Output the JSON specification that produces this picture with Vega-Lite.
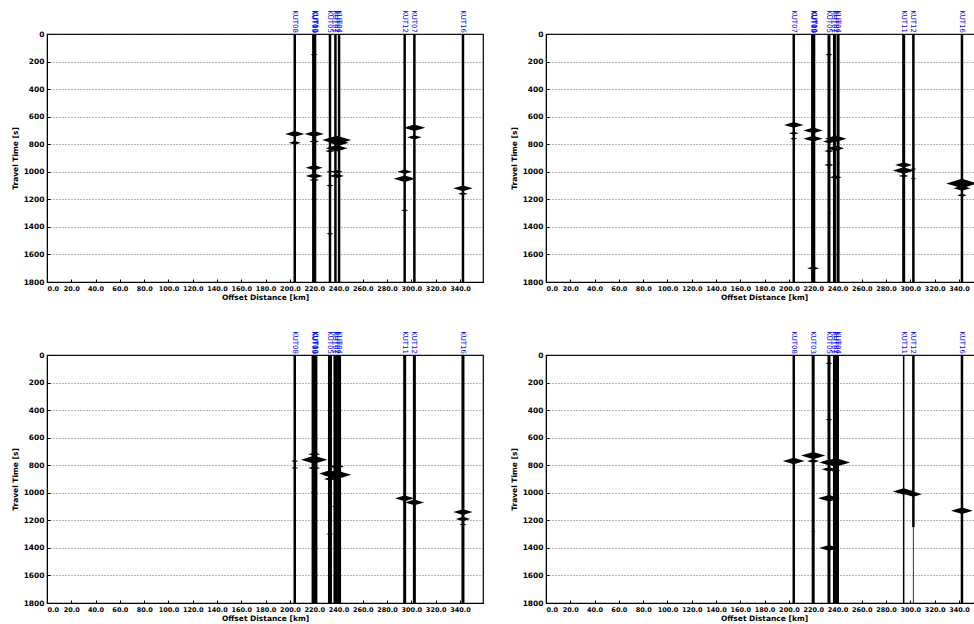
{
  "$schema": "https://vega.github.io/schema/vega-lite/v6.json",
  "padding": {"left": 10, "top": 9, "right": 0, "bottom": 0},
  "background": "white",
  "bounds": "flush",
  "spacing": {"column": 63, "row": 73},
  "config": {
    "font": "DejaVu Sans",
    "view": {"stroke": "black", "strokeWidth": 1.2},
    "axis": {
      "labelFont": "DejaVu Sans", "labelFontWeight": "bold", "labelFontSize": 7.5, "labelColor": "black",
      "titleFont": "DejaVu Sans", "titleFontWeight": "bold", "titleFontSize": 7.5, "titleColor": "black",
      "domainColor": "black", "tickColor": "black", "tickSize": -3, "labelPadding": 6, "labelOverlap": false
    }
  },
  "data": {"values": [
    {"panel": "p1", "kind": "trace", "offset": 204, "t0": 0, "t1": 1800, "noise": 2.5},
    {"panel": "p1", "kind": "trace", "offset": 219.5, "t0": 0, "t1": 1800, "noise": 3},
    {"panel": "p1", "kind": "trace", "offset": 220.5, "t0": 0, "t1": 1800, "noise": 3},
    {"panel": "p1", "kind": "trace", "offset": 233, "t0": 0, "t1": 1800, "noise": 2.5},
    {"panel": "p1", "kind": "trace", "offset": 237.5, "t0": 0, "t1": 1800, "noise": 2.5},
    {"panel": "p1", "kind": "trace", "offset": 240.5, "t0": 0, "t1": 1800, "noise": 2.5},
    {"panel": "p1", "kind": "trace", "offset": 294.5, "t0": 0, "t1": 1800, "noise": 2.5},
    {"panel": "p1", "kind": "trace", "offset": 302.5, "t0": 0, "t1": 1800, "noise": 2.5},
    {"panel": "p1", "kind": "trace", "offset": 342.5, "t0": 0, "t1": 1800, "noise": 2.5},

    {"panel": "p2", "kind": "trace", "offset": 204, "t0": 0, "t1": 1800, "noise": 2.5},
    {"panel": "p2", "kind": "trace", "offset": 219.5, "t0": 0, "t1": 1800, "noise": 3},
    {"panel": "p2", "kind": "trace", "offset": 220.5, "t0": 0, "t1": 1800, "noise": 3},
    {"panel": "p2", "kind": "trace", "offset": 233, "t0": 0, "t1": 1800, "noise": 3},
    {"panel": "p2", "kind": "trace", "offset": 237.5, "t0": 0, "t1": 1800, "noise": 3},
    {"panel": "p2", "kind": "trace", "offset": 240.5, "t0": 0, "t1": 1800, "noise": 3},
    {"panel": "p2", "kind": "trace", "offset": 294.5, "t0": 0, "t1": 1800, "noise": 3},
    {"panel": "p2", "kind": "trace", "offset": 302.5, "t0": 0, "t1": 1800, "noise": 2.5},
    {"panel": "p2", "kind": "trace", "offset": 342.5, "t0": 0, "t1": 1800, "noise": 2.5},

    {"panel": "p3", "kind": "trace", "offset": 204, "t0": 0, "t1": 1800, "noise": 2.5},
    {"panel": "p3", "kind": "trace", "offset": 219.5, "t0": 0, "t1": 1800, "noise": 4},
    {"panel": "p3", "kind": "trace", "offset": 221, "t0": 0, "t1": 1800, "noise": 4},
    {"panel": "p3", "kind": "trace", "offset": 233, "t0": 0, "t1": 1800, "noise": 4},
    {"panel": "p3", "kind": "trace", "offset": 237.5, "t0": 0, "t1": 1800, "noise": 4},
    {"panel": "p3", "kind": "trace", "offset": 240.5, "t0": 0, "t1": 1800, "noise": 4},
    {"panel": "p3", "kind": "trace", "offset": 294.5, "t0": 0, "t1": 1800, "noise": 3},
    {"panel": "p3", "kind": "trace", "offset": 302.5, "t0": 0, "t1": 1800, "noise": 3},
    {"panel": "p3", "kind": "trace", "offset": 342.5, "t0": 0, "t1": 1800, "noise": 3},

    {"panel": "p4", "kind": "trace", "offset": 204, "t0": 0, "t1": 1800, "noise": 2.5},
    {"panel": "p4", "kind": "trace", "offset": 220, "t0": 0, "t1": 1800, "noise": 3},
    {"panel": "p4", "kind": "trace", "offset": 233, "t0": 0, "t1": 1800, "noise": 3},
    {"panel": "p4", "kind": "trace", "offset": 237.5, "t0": 0, "t1": 1800, "noise": 3},
    {"panel": "p4", "kind": "trace", "offset": 240, "t0": 0, "t1": 1800, "noise": 3},
    {"panel": "p4", "kind": "trace", "offset": 294.5, "t0": 0, "t1": 1800, "noise": 1.5},
    {"panel": "p4", "kind": "trace", "offset": 302.5, "t0": 0, "t1": 1250, "noise": 2.5},
    {"panel": "p4", "kind": "trace", "offset": 302.5, "t0": 1250, "t1": 1800, "noise": 0.8},
    {"panel": "p4", "kind": "trace", "offset": 342.5, "t0": 0, "t1": 1800, "noise": 2.5},

    {"panel": "p1", "kind": "burst", "offset": 204, "time": 725, "amp": 8},
    {"panel": "p1", "kind": "burst", "offset": 204, "time": 790, "amp": 5},
    {"panel": "p1", "kind": "burst", "offset": 220, "time": 150, "amp": 3},
    {"panel": "p1", "kind": "burst", "offset": 220, "time": 725, "amp": 8},
    {"panel": "p1", "kind": "burst", "offset": 220, "time": 780, "amp": 4},
    {"panel": "p1", "kind": "burst", "offset": 220, "time": 970, "amp": 7},
    {"panel": "p1", "kind": "burst", "offset": 220, "time": 1030, "amp": 7},
    {"panel": "p1", "kind": "burst", "offset": 220, "time": 1060, "amp": 4},
    {"panel": "p1", "kind": "burst", "offset": 220, "time": 300, "amp": 2},
    {"panel": "p1", "kind": "burst", "offset": 220, "time": 1200, "amp": 2.5},
    {"panel": "p1", "kind": "burst", "offset": 220, "time": 1350, "amp": 2},
    {"panel": "p1", "kind": "burst", "offset": 233, "time": 770, "amp": 4},
    {"panel": "p1", "kind": "burst", "offset": 233, "time": 850, "amp": 4},
    {"panel": "p1", "kind": "burst", "offset": 233, "time": 1000, "amp": 3},
    {"panel": "p1", "kind": "burst", "offset": 233, "time": 1100, "amp": 3},
    {"panel": "p1", "kind": "burst", "offset": 233, "time": 1450, "amp": 3},
    {"panel": "p1", "kind": "burst", "offset": 238.5, "time": 770, "amp": 12},
    {"panel": "p1", "kind": "burst", "offset": 238.5, "time": 830, "amp": 9},
    {"panel": "p1", "kind": "burst", "offset": 238.5, "time": 1000, "amp": 5},
    {"panel": "p1", "kind": "burst", "offset": 238.5, "time": 1030, "amp": 6},
    {"panel": "p1", "kind": "burst", "offset": 240.5, "time": 790, "amp": 8},
    {"panel": "p1", "kind": "burst", "offset": 294.5, "time": 1000, "amp": 6},
    {"panel": "p1", "kind": "burst", "offset": 294.5, "time": 1050, "amp": 9},
    {"panel": "p1", "kind": "burst", "offset": 294.5, "time": 1280, "amp": 3},
    {"panel": "p1", "kind": "burst", "offset": 302.5, "time": 680, "amp": 9},
    {"panel": "p1", "kind": "burst", "offset": 302.5, "time": 750, "amp": 6},
    {"panel": "p1", "kind": "burst", "offset": 342.5, "time": 1120, "amp": 8},
    {"panel": "p1", "kind": "burst", "offset": 342.5, "time": 1160, "amp": 4},

    {"panel": "p2", "kind": "burst", "offset": 204, "time": 660, "amp": 8},
    {"panel": "p2", "kind": "burst", "offset": 204, "time": 720, "amp": 4},
    {"panel": "p2", "kind": "burst", "offset": 204, "time": 760, "amp": 3},
    {"panel": "p2", "kind": "burst", "offset": 220, "time": 700, "amp": 8},
    {"panel": "p2", "kind": "burst", "offset": 220, "time": 760, "amp": 8},
    {"panel": "p2", "kind": "burst", "offset": 220, "time": 150, "amp": 2},
    {"panel": "p2", "kind": "burst", "offset": 220, "time": 400, "amp": 2},
    {"panel": "p2", "kind": "burst", "offset": 220, "time": 1400, "amp": 2},
    {"panel": "p2", "kind": "burst", "offset": 220, "time": 1700, "amp": 5},
    {"panel": "p2", "kind": "burst", "offset": 233, "time": 150, "amp": 3},
    {"panel": "p2", "kind": "burst", "offset": 233, "time": 780, "amp": 5},
    {"panel": "p2", "kind": "burst", "offset": 233, "time": 850, "amp": 4},
    {"panel": "p2", "kind": "burst", "offset": 233, "time": 950, "amp": 4},
    {"panel": "p2", "kind": "burst", "offset": 233, "time": 1300, "amp": 2},
    {"panel": "p2", "kind": "burst", "offset": 238.5, "time": 760, "amp": 9},
    {"panel": "p2", "kind": "burst", "offset": 238.5, "time": 830, "amp": 7},
    {"panel": "p2", "kind": "burst", "offset": 238.5, "time": 1040, "amp": 5},
    {"panel": "p2", "kind": "burst", "offset": 238.5, "time": 1600, "amp": 2},
    {"panel": "p2", "kind": "burst", "offset": 294.5, "time": 950, "amp": 7},
    {"panel": "p2", "kind": "burst", "offset": 294.5, "time": 990, "amp": 9},
    {"panel": "p2", "kind": "burst", "offset": 294.5, "time": 1030, "amp": 4},
    {"panel": "p2", "kind": "burst", "offset": 302.5, "time": 980, "amp": 2.5},
    {"panel": "p2", "kind": "burst", "offset": 302.5, "time": 1050, "amp": 2.5},
    {"panel": "p2", "kind": "burst", "offset": 342.5, "time": 1085, "amp": 13},
    {"panel": "p2", "kind": "burst", "offset": 342.5, "time": 1120, "amp": 7},
    {"panel": "p2", "kind": "burst", "offset": 342.5, "time": 1170, "amp": 4},

    {"panel": "p3", "kind": "burst", "offset": 204, "time": 770, "amp": 3},
    {"panel": "p3", "kind": "burst", "offset": 204, "time": 820, "amp": 3},
    {"panel": "p3", "kind": "burst", "offset": 220, "time": 720, "amp": 5},
    {"panel": "p3", "kind": "burst", "offset": 220, "time": 760, "amp": 11},
    {"panel": "p3", "kind": "burst", "offset": 220, "time": 820, "amp": 5},
    {"panel": "p3", "kind": "burst", "offset": 220, "time": 1000, "amp": 3},
    {"panel": "p3", "kind": "burst", "offset": 233, "time": 860, "amp": 9},
    {"panel": "p3", "kind": "burst", "offset": 233, "time": 900, "amp": 5},
    {"panel": "p3", "kind": "burst", "offset": 233, "time": 1300, "amp": 3},
    {"panel": "p3", "kind": "burst", "offset": 238.5, "time": 870, "amp": 12},
    {"panel": "p3", "kind": "burst", "offset": 238.5, "time": 810, "amp": 6},
    {"panel": "p3", "kind": "burst", "offset": 238.5, "time": 1100, "amp": 4},
    {"panel": "p3", "kind": "burst", "offset": 294.5, "time": 1040, "amp": 8},
    {"panel": "p3", "kind": "burst", "offset": 302.5, "time": 1070, "amp": 8},
    {"panel": "p3", "kind": "burst", "offset": 342.5, "time": 1140, "amp": 8},
    {"panel": "p3", "kind": "burst", "offset": 342.5, "time": 1190, "amp": 6},
    {"panel": "p3", "kind": "burst", "offset": 342.5, "time": 1230, "amp": 3},

    {"panel": "p4", "kind": "burst", "offset": 204, "time": 770, "amp": 9},
    {"panel": "p4", "kind": "burst", "offset": 220, "time": 730, "amp": 10},
    {"panel": "p4", "kind": "burst", "offset": 220, "time": 770, "amp": 5},
    {"panel": "p4", "kind": "burst", "offset": 220, "time": 1280, "amp": 2},
    {"panel": "p4", "kind": "burst", "offset": 233, "time": 60, "amp": 3},
    {"panel": "p4", "kind": "burst", "offset": 233, "time": 470, "amp": 3},
    {"panel": "p4", "kind": "burst", "offset": 233, "time": 780, "amp": 8},
    {"panel": "p4", "kind": "burst", "offset": 233, "time": 830, "amp": 6},
    {"panel": "p4", "kind": "burst", "offset": 233, "time": 1040, "amp": 9},
    {"panel": "p4", "kind": "burst", "offset": 233, "time": 1400, "amp": 8},
    {"panel": "p4", "kind": "burst", "offset": 238.5, "time": 780, "amp": 12},
    {"panel": "p4", "kind": "burst", "offset": 238.5, "time": 840, "amp": 4},
    {"panel": "p4", "kind": "burst", "offset": 294.5, "time": 990, "amp": 9},
    {"panel": "p4", "kind": "burst", "offset": 302.5, "time": 1010, "amp": 7},
    {"panel": "p4", "kind": "burst", "offset": 342.5, "time": 1130, "amp": 9},

    {"panel": "p1", "kind": "label", "offset": 204, "station": "KUT08"},
    {"panel": "p1", "kind": "label", "offset": 219.5, "station": "KUT09"},
    {"panel": "p1", "kind": "label", "offset": 220.5, "station": "KUT10"},
    {"panel": "p1", "kind": "label", "offset": 221, "station": "KUT03"},
    {"panel": "p1", "kind": "label", "offset": 233, "station": "KUT05"},
    {"panel": "p1", "kind": "label", "offset": 237.5, "station": "KUT01"},
    {"panel": "p1", "kind": "label", "offset": 239, "station": "KUT02"},
    {"panel": "p1", "kind": "label", "offset": 240.5, "station": "KUT04"},
    {"panel": "p1", "kind": "label", "offset": 294.5, "station": "KUT12"},
    {"panel": "p1", "kind": "label", "offset": 302.5, "station": "KUT07"},
    {"panel": "p1", "kind": "label", "offset": 342.5, "station": "KUT16"},

    {"panel": "p2", "kind": "label", "offset": 204, "station": "KUT07"},
    {"panel": "p2", "kind": "label", "offset": 219.5, "station": "KUT09"},
    {"panel": "p2", "kind": "label", "offset": 220.5, "station": "KUT10"},
    {"panel": "p2", "kind": "label", "offset": 221, "station": "KUT03"},
    {"panel": "p2", "kind": "label", "offset": 233, "station": "KUT05"},
    {"panel": "p2", "kind": "label", "offset": 237.5, "station": "KUT01"},
    {"panel": "p2", "kind": "label", "offset": 239, "station": "KUT02"},
    {"panel": "p2", "kind": "label", "offset": 240.5, "station": "KUT04"},
    {"panel": "p2", "kind": "label", "offset": 294.5, "station": "KUT11"},
    {"panel": "p2", "kind": "label", "offset": 302.5, "station": "KUT12"},
    {"panel": "p2", "kind": "label", "offset": 342.5, "station": "KUT16"},

    {"panel": "p3", "kind": "label", "offset": 204, "station": "KUT08"},
    {"panel": "p3", "kind": "label", "offset": 219.5, "station": "KUT09"},
    {"panel": "p3", "kind": "label", "offset": 220.5, "station": "KUT10"},
    {"panel": "p3", "kind": "label", "offset": 221, "station": "KUT03"},
    {"panel": "p3", "kind": "label", "offset": 233, "station": "KUT05"},
    {"panel": "p3", "kind": "label", "offset": 237.5, "station": "KUT01"},
    {"panel": "p3", "kind": "label", "offset": 239, "station": "KUT02"},
    {"panel": "p3", "kind": "label", "offset": 240.5, "station": "KUT04"},
    {"panel": "p3", "kind": "label", "offset": 294.5, "station": "KUT11"},
    {"panel": "p3", "kind": "label", "offset": 302.5, "station": "KUT12"},
    {"panel": "p3", "kind": "label", "offset": 342.5, "station": "KUT16"},

    {"panel": "p4", "kind": "label", "offset": 204, "station": "KUT08"},
    {"panel": "p4", "kind": "label", "offset": 220, "station": "KUT03"},
    {"panel": "p4", "kind": "label", "offset": 233, "station": "KUT05"},
    {"panel": "p4", "kind": "label", "offset": 237.5, "station": "KUT01"},
    {"panel": "p4", "kind": "label", "offset": 239, "station": "KUT02"},
    {"panel": "p4", "kind": "label", "offset": 240.5, "station": "KUT04"},
    {"panel": "p4", "kind": "label", "offset": 294.5, "station": "KUT11"},
    {"panel": "p4", "kind": "label", "offset": 302.5, "station": "KUT12"},
    {"panel": "p4", "kind": "label", "offset": 342.5, "station": "KUT16"}
  ]},
  "facet": {"field": "panel", "type": "nominal", "title": null, "header": {"labels": false, "title": null, "labelFontSize": 0, "labelPadding": 0}, "sort": ["p1", "p2", "p3", "p4"]},
  "columns": 2,
  "resolve": {"axis": {"x": "independent", "y": "independent"}},
  "spec": {
    "width": 436,
    "height": 248,
    "layer": [
      {
        "transform": [{"filter": "datum.kind === 'trace'"}],
        "mark": {"type": "rule", "color": "black"},
        "encoding": {
          "x": {"field": "offset", "type": "quantitative",
                "scale": {"domain": [0, 359], "nice": false, "zero": false},
                "axis": {"title": "Offset Distance [km]", "format": ".1f", "grid": false, "titlePadding": 2, "tickCount": 40, "labelFontSize": 6.5,
                         "values": [0, 20, 40, 60, 80, 100, 120, 140, 160, 180, 200, 220, 240, 260, 280, 300, 320, 340]}},
          "y": {"field": "t0", "type": "quantitative",
                "scale": {"domain": [0, 1800], "nice": false, "reverse": true},
                "axis": {"title": "Travel Time [s]", "format": "d", "grid": true, "gridDash": [1, 2], "gridColor": "#444", "gridWidth": 0.8, "gridOpacity": 1, "titlePadding": 4, "tickCount": 40,
                         "values": [0, 200, 400, 600, 800, 1000, 1200, 1400, 1600, 1800]}},
          "y2": {"field": "t1"},
          "strokeWidth": {"field": "noise", "type": "quantitative", "scale": {"domain": [0, 10], "range": [0, 10]}, "legend": null}
        }
      },
      {
        "transform": [{"filter": "datum.kind === 'burst'"}],
        "mark": {"type": "point", "shape": "M-1,0L0,-0.3L1,0L0,0.3Z", "filled": true, "color": "black", "opacity": 1, "strokeWidth": 0},
        "encoding": {
          "x": {"field": "offset", "type": "quantitative",
                "axis": {"title": "Offset Distance [km]", "format": ".1f", "grid": false, "titlePadding": 2, "tickCount": 40, "labelFontSize": 6.5,
                         "values": [0, 20, 40, 60, 80, 100, 120, 140, 160, 180, 200, 220, 240, 260, 280, 300, 320, 340]}},
          "y": {"field": "time", "type": "quantitative",
                "axis": {"title": "Travel Time [s]", "format": "d", "grid": true, "gridDash": [1, 2], "gridColor": "#444", "gridWidth": 0.8, "gridOpacity": 1, "titlePadding": 4, "tickCount": 40,
                         "values": [0, 200, 400, 600, 800, 1000, 1200, 1400, 1600, 1800]}},
          "size": {"field": "amp", "type": "quantitative", "scale": {"type": "pow", "exponent": 2, "domain": [0, 20], "range": [0, 2346]}, "legend": null}
        }
      },
      {
        "transform": [{"filter": "datum.kind === 'label'"}],
        "mark": {"type": "text", "angle": 90, "align": "right", "baseline": "middle", "color": "#0000ff", "fontSize": 7, "font": "DejaVu Sans", "dx": -1},
        "encoding": {
          "x": {"field": "offset", "type": "quantitative",
                "axis": {"title": "Offset Distance [km]", "format": ".1f", "grid": false, "titlePadding": 2, "tickCount": 40, "labelFontSize": 6.5,
                         "values": [0, 20, 40, 60, 80, 100, 120, 140, 160, 180, 200, 220, 240, 260, 280, 300, 320, 340]}},
          "y": {"datum": 0,
                "axis": {"title": "Travel Time [s]", "format": "d", "grid": true, "gridDash": [1, 2], "gridColor": "#444", "gridWidth": 0.8, "gridOpacity": 1, "titlePadding": 4, "tickCount": 40,
                         "values": [0, 200, 400, 600, 800, 1000, 1200, 1400, 1600, 1800]}},
          "text": {"field": "station"}
        }
      }
    ]
  }
}
